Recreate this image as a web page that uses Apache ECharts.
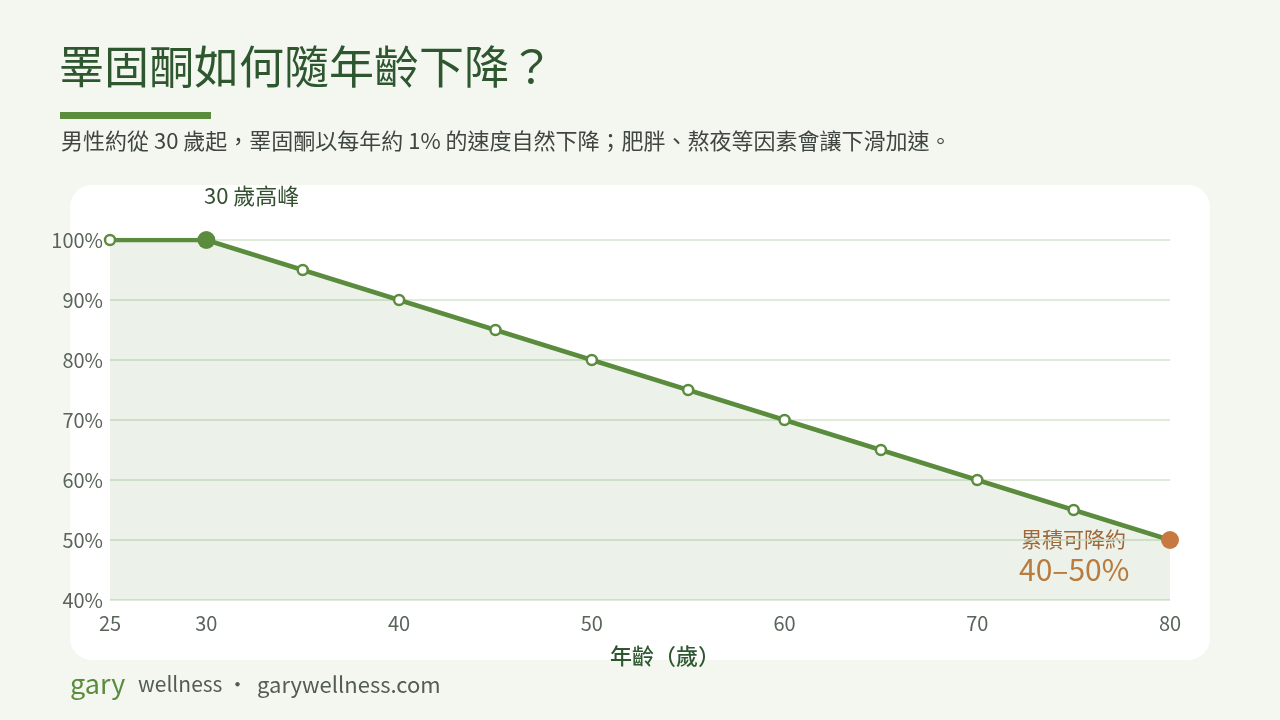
<!DOCTYPE html>
<html>
<head>
<meta charset="utf-8">
<script src="https://cdn.jsdelivr.net/npm/echarts@6/dist/echarts.min.js"></script>
<style>
  html, body { margin: 0; padding: 0; background: #f3f7f0; }
  #chart { width: 1280px; height: 720px; }
</style>
</head>
<body>
<div id="chart"></div>
<script>
// 資料
const ages = [25, 30, 35, 40, 45, 50, 55, 60, 65, 70, 75, 80];
const levels = [100, 100, 95, 90, 85, 80, 75, 70, 65, 60, 55, 50];
const xTicks = [25, 30, 40, 50, 60, 70, 80];
const peakAge = 30;
const endAge = 80;

const GREEN = '#5b8c3e';
const ORANGE = '#c67a40';
const FONT = '"Noto Sans CJK TC", "Noto Sans", sans-serif';

const chart = echarts.init(document.getElementById('chart'));

const seriesData = ages.map((a, i) => {
    const item = { value: [a, levels[i]] };
    if (a === peakAge) {
        item.symbolSize = 18;
        item.itemStyle = { color: GREEN, borderColor: GREEN, borderWidth: 0 };
    } else if (a === endAge) {
        item.symbolSize = 18;
        item.itemStyle = { color: ORANGE, borderColor: ORANGE, borderWidth: 0 };
    }
    return item;
});

chart.setOption({
    backgroundColor: '#f3f7f0',
    textStyle: { fontFamily: FONT },
    graphic: [
        {
            type: 'rect', z: -10,
            shape: { x: 70, y: 185, width: 1140, height: 475, r: 22 },
            style: { fill: '#ffffff' },
        },
        {
            type: 'text', left: 59, top: 44,
            style: { text: '睪固酮如何隨年齡下降？', fill: '#2e5730', font: '45px ' + FONT },
        },
        {
            type: 'rect',
            shape: { x: 60, y: 112, width: 151, height: 7 },
            style: { fill: GREEN },
        },
        {
            type: 'text', left: 61, top: 130,
            style: {
                text: '男性約從 30 歲起，睪固酮以每年約 1% 的速度自然下降；肥胖、熬夜等因素會讓下滑加速。',
                fill: '#3f4540', font: '22px ' + FONT,
            },
        },
        {
            type: 'text', left: 204, top: 185,
            style: { text: '30 歲高峰', fill: '#33502f', font: '22px ' + FONT },
        },
        {
            type: 'text', left: 1021, top: 529,
            style: { text: '累積可降約', fill: '#a9643a', font: '21px ' + FONT },
        },
        {
            type: 'text', left: 1019, top: 555,
            style: { text: '40–50%', fill: ORANGE, font: '30px ' + FONT },
        },
        {
            type: 'text', left: 610, top: 645,
            style: { text: '年齡（歲）', fill: '#2e5730', font: '500 22px ' + FONT },
        },
        {
            type: 'text', left: 70, top: 670,
            style: { text: 'gary', fill: GREEN, font: '27px ' + FONT },
        },
        {
            type: 'text', left: 138, top: 674,
            style: { text: 'wellness ·', fill: '#555c55', font: '21px ' + FONT },
        },
        {
            type: 'text', left: 257, top: 674,
            style: { text: 'garywellness.com', fill: '#555c55', font: '22px ' + FONT },
        },
    ],
    grid: { left: 110, right: 110, top: 240, bottom: 120 },
    xAxis: {
        type: 'value',
        min: 25,
        max: 80,
        axisLine: { show: false },
        axisTick: { show: false },
        splitLine: { show: false },
        axisLabel: {
            color: '#5a645a',
            fontSize: 20,
            margin: 13,
            customValues: xTicks,
        },
    },
    yAxis: {
        type: 'value',
        min: 40,
        max: 100,
        interval: 10,
        axisLine: { show: false },
        axisTick: { show: false },
        axisLabel: {
            color: '#5a645a',
            fontSize: 20,
            margin: 7,
            formatter: '{value}%',
        },
        splitLine: { lineStyle: { color: '#d5e3cc', width: 1.5 } },
    },
    series: [{
        type: 'line',
        data: seriesData,
        symbol: 'circle',
        symbolSize: 10,
        itemStyle: { color: '#ffffff', borderColor: GREEN, borderWidth: 2.5 },
        lineStyle: { color: GREEN, width: 4.5 },
        areaStyle: { color: 'rgba(91, 140, 62, 0.16)', origin: 'start' },
        z: 5,
    }],
});
</script>
</body>
</html>
